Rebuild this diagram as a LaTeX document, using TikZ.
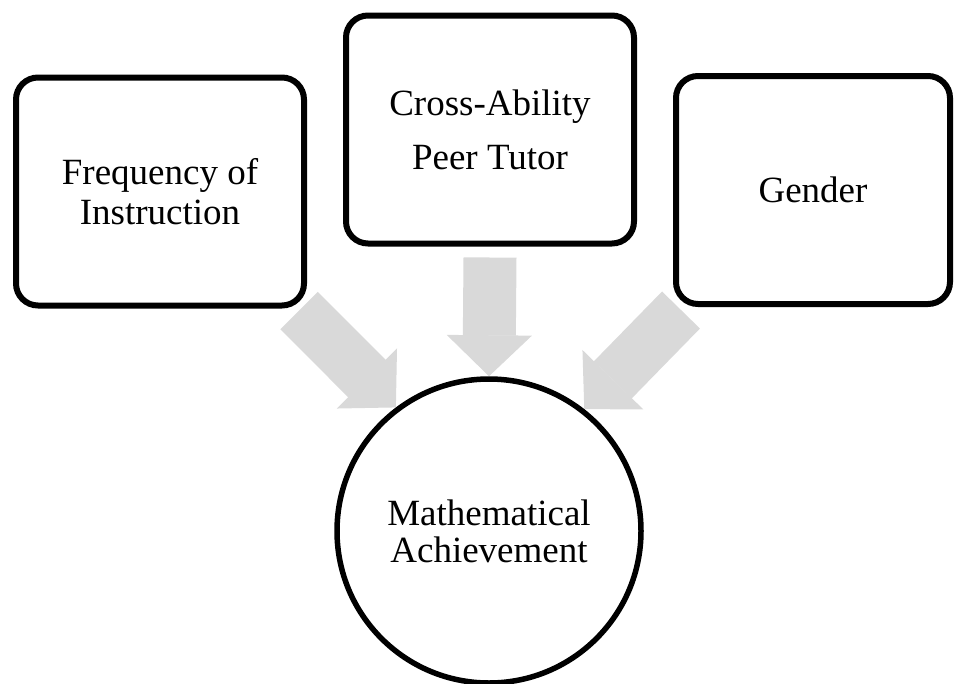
\documentclass[tikz,border=0pt]{standalone}
\usepackage{fontspec}
\setmainfont{Liberation Serif}
\usepackage{tikz}
\usetikzlibrary{positioning,arrows.meta,backgrounds}
\definecolor{flowgray}{HTML}{D9D9D9}

\begin{document}
\begin{tikzpicture}[x=1pt, y=1pt,
  box/.style={rectangle, rounded corners=22pt, draw=black, line width=6pt, align=center,
    minimum width=288pt, minimum height=228pt, font=\fontsize{37}{40}\selectfont},
  hub/.style={circle, draw=black, line width=5.5pt, align=center,
    minimum size=304pt, font=\fontsize{37}{37}\selectfont},
  flow/.style={line width=53pt, color=flowgray,
    -{Triangle[length=41pt, width=85pt, line width=1pt]}}
]
\useasboundingbox (0,0) rectangle (956,-683);
\node[box] (freq) at (160,-191.5) {Frequency of\\Instruction};
\node[box, font=\fontsize{37}{54}\selectfont] (cross) at (490,-129.5) {Cross-Ability\\Peer Tutor};
\node[box, minimum width=274pt] (gender) at (813,-190) {Gender};
\node[hub] (achv) at (489,-531) {Mathematical\\Achievement};

\begin{scope}[on background layer]
\draw[flow] ([shift={(-8,-2)}]freq.south east) -- (achv.127.5);
\draw[flow] ([yshift=-11pt]cross.south) -- (achv.north);
\draw[flow] ([shift={(8,-3)}]gender.south west) -- (achv.52.5);
\end{scope}
\end{tikzpicture}
\end{document}
